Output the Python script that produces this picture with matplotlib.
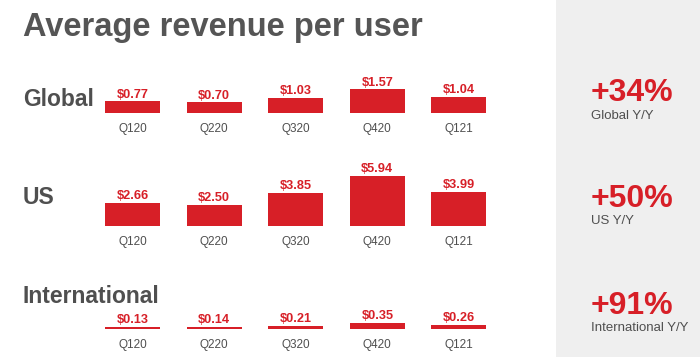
'''
    Average revenue per user, by region and quarter
'''

# - Imports

import matplotlib
matplotlib.use("Agg")
import matplotlib.pyplot as plt
from matplotlib.patches import Rectangle

# - Data

quarters = ["Q120", "Q220", "Q320", "Q420", "Q121"]
global_arpu = [0.77, 0.70, 1.03, 1.57, 1.04]
us_arpu = [2.66, 2.50, 3.85, 5.94, 3.99]
intl_arpu = [0.13, 0.14, 0.21, 0.35, 0.26]

regions = ["Global", "US", "International"]
growth = ["+34%", "+50%", "+91%"]
growth_labels = ["Global Y/Y", "US Y/Y", "International Y/Y"]

# - Layout (pixels from the top left of a 700x357 canvas)

W, H = 700, 357
RED = "#d71f27"
GREY = "#4f4f4f"
FONT = ["Liberation Sans", "DejaVu Sans"]

# baseline y, pixels per dollar, label baseline y, growth baseline y, sub baseline y
panels = [
    (113.0, 15.0, 106, 101, 119),
    (225.7, 8.4, 204, 207, 224),
    (329.3, 17.0, 303, 314, 331),
]


def fx(x):
    return x / W


def fy(y):
    return 1 - y / H


def main():
    '''Main'''

    plt.rcParams['font.family'] = FONT
    fig = plt.figure(figsize=(7, 3.57), dpi=100)

    # Grey side panel
    fig.patches.append(Rectangle((fx(556), 0), 1 - fx(556), 1, transform=fig.transFigure,
                                 facecolor="#efefef", edgecolor="none", zorder=0))

    # Title
    fig.text(fx(23), fy(36), "Average revenue per user", fontsize=23.5, fontweight="bold",
             color="#555555", va="baseline", ha="left")

    series = [global_arpu, us_arpu, intl_arpu]
    ax_h = 60

    for values, region, pct, sub, (base, scale, lab_y, pct_y, sub_y) in zip(
            series, regions, growth, growth_labels, panels):
        ax = fig.add_axes([fx(91.7), fy(base), 408 / W, ax_h / H])
        ax.bar(range(len(quarters)), values, width=0.674, color=RED)
        ax.set_xlim(-0.5, len(quarters) - 0.5)
        ax.set_ylim(0, ax_h / scale)
        ax.axis("off")

        for i, (q, v) in enumerate(zip(quarters, values)):
            ax.annotate(f"${v:.2f}", (i, v), xytext=(0, 5), textcoords="offset points",
                        ha="center", va="center", fontsize=9.2, fontweight="bold",
                        color=RED, annotation_clip=False)
            ax.annotate(q, (i, 0), xytext=(0, -11.5), textcoords="offset points",
                        ha="center", va="center", fontsize=8.5, color=GREY,
                        annotation_clip=False)

        # Region label
        fig.text(fx(23), fy(lab_y), region, fontsize=16.5, fontweight="bold",
                 color=GREY, va="baseline", ha="left")

        # Growth figures on the right
        fig.text(fx(591), fy(pct_y), pct, fontsize=23, fontweight="bold",
                 color=RED, va="baseline", ha="left")
        fig.text(fx(591), fy(sub_y), sub, fontsize=9.5, color=GREY,
                 va="baseline", ha="left")

    fig.savefig("out.png", dpi=100)


# - Main

if __name__ == "__main__":
    main()
